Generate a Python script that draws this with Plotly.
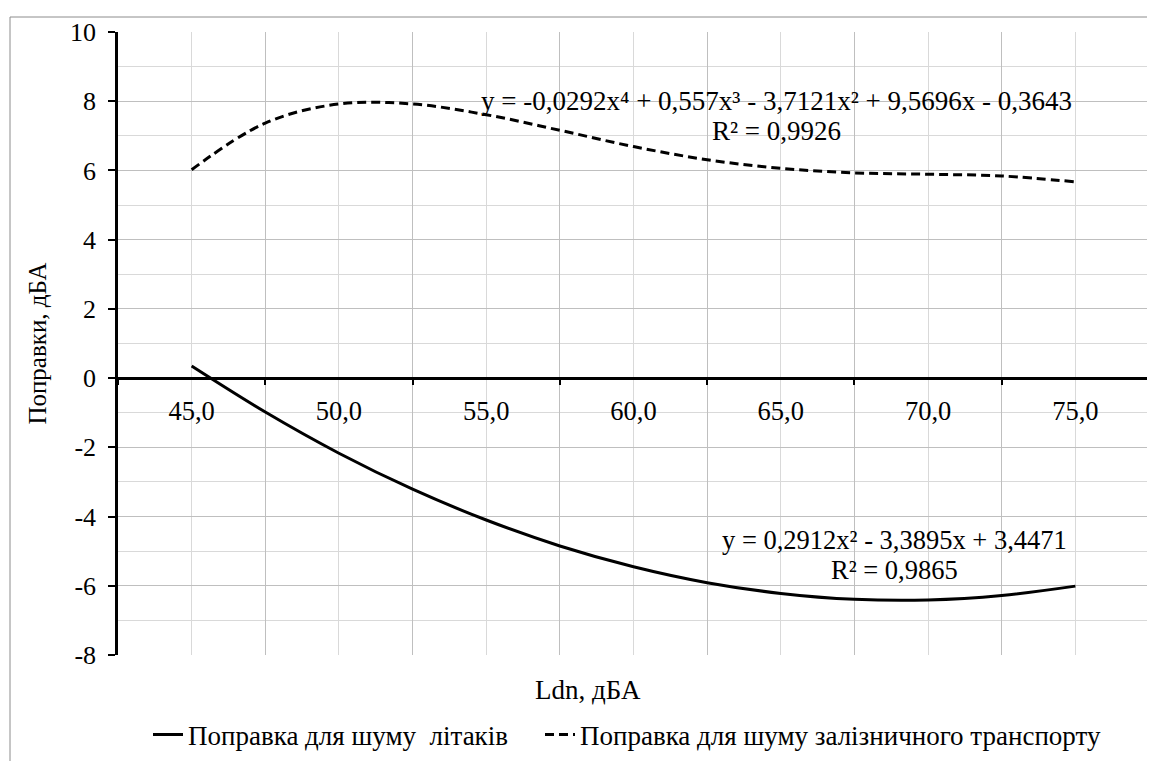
import plotly.graph_objects as go

# Ldn values (dBA) and category labels
ldn = [45.0, 50.0, 55.0, 60.0, 65.0, 70.0, 75.0]
tick_labels = ["45,0", "50,0", "55,0", "60,0", "65,0", "70,0", "75,0"]
boundaries = [42.5, 47.5, 52.5, 57.5, 62.5, 67.5, 72.5, 77.5]
y_ticks = [-8, -6, -4, -2, 0, 2, 4, 6, 8, 10]
y_tick_labels = ["-8", "-6", "-4", "-2", "0", "2", "4", "6", "8", "10"]

# curves at every half category (2.5 dBA step)
x_read = [45.0, 47.5, 50.0, 52.5, 55.0, 57.5, 60.0, 62.5, 65.0, 67.5, 70.0, 72.5, 75.0]
aircraft = [0.35, -0.98, -2.17, -3.21, -4.10, -4.85, -5.45, -5.91, -6.22, -6.39, -6.41, -6.28, -6.01]
railway = [6.02, 7.37, 7.92, 7.92, 7.61, 7.16, 6.69, 6.31, 6.06, 5.93, 5.89, 5.84, 5.67]

name_air = "Поправка для шуму \u00a0літаків"
name_rail = "Поправка для шуму залізничного транспорту"
eq_rail = "y = -0,0292x⁴ + 0,557x³ - 3,7121x² + 9,5696x - 0,3643"
r2_rail = "R² = 0,9926"
eq_air = "y = 0,2912x² - 3,3895x + 3,4471"
r2_air = "R² = 0,9865"

FONT = "Liberation Serif"
OFF = 8  # page body margin

L, R, T, B = 118 - OFF, 1155 - (1149 - OFF), 32 - OFF, 761 - (655 - OFF)
PW = 1149 - 118
PH = 655 - 32


def f(size):
    return dict(family=FONT, size=size, color="black")


fig = go.Figure()
fig.add_trace(go.Scatter(x=x_read, y=aircraft, mode="lines", name=name_air + "\u00a0" * 4,
                         line=dict(color="black", width=3, shape="spline")))
fig.add_trace(go.Scatter(x=x_read, y=railway, mode="lines", name=name_rail,
                         line=dict(color="black", width=3, shape="spline", dash="9px,5px")))

ypos = 8 / 18

fig.update_layout(
    width=1155, height=761,
    margin=dict(l=L, r=R, t=T, b=B, autoexpand=False),
    paper_bgcolor="white", plot_bgcolor="white",
    font=f(25),
    xaxis=dict(range=[42.5, 77.5], tickmode="array", tickvals=ldn, ticktext=tick_labels,
               showgrid=True, gridcolor="#d9d9d9", gridwidth=1,
               showline=True, linecolor="black", linewidth=2.5,
               ticks="", anchor="free", position=ypos, zeroline=False, automargin=False,
               tickfont=f(26.5), ticklabelstandoff=8),
    xaxis2=dict(range=[42.5, 77.5], overlaying="x", tickmode="array", tickvals=boundaries,
                showgrid=True, gridcolor="#bfbfbf", gridwidth=1, automargin=False,
                showline=False, ticks="outside", ticklen=6, tickwidth=2, tickcolor="black",
                showticklabels=False, anchor="free", position=ypos, zeroline=False),
    yaxis=dict(range=[-8, 10], tickmode="array", tickvals=y_ticks, ticktext=y_tick_labels,
               showgrid=True, gridcolor="#bfbfbf", gridwidth=1,
               minor=dict(dtick=1, showgrid=True, gridcolor="#d9d9d9", gridwidth=1),
               showline=True, linecolor="black", linewidth=2.5, automargin=False,
               ticks="outside", ticklen=7, tickwidth=2, tickcolor="black",
               zeroline=False, tickfont=f(26), ticklabelstandoff=7,
               title=dict(text="Поправки, дБА", font=f(25), standoff=17)),
    legend=dict(orientation="h", xref="container", yref="container",
                x=(148 - OFF) / 1155, xanchor="left", y=1 - (735 - OFF) / 761, yanchor="middle",
                font=f(27), bgcolor="rgba(0,0,0,0)", itemwidth=30, tracegroupgap=0),
    showlegend=True,
)

# dummy trace to activate xaxis2 gridlines
fig.add_trace(go.Scatter(x=[None], y=[None], xaxis="x2", showlegend=False, hoverinfo="skip"))

# chart area border
fig.add_shape(type="rect", xref="paper", yref="paper",
              x0=(10 - 118) / PW, y0=-0.4, x1=1.2, y1=(655 - 17) / PH,
              line=dict(color="#8c8c8c", width=1), layer="below")

ann = []
ann.append(dict(text=eq_rail, x=776, y=101, s=27))
ann.append(dict(text=r2_rail, x=776, y=131, s=27))
ann.append(dict(text=eq_air, x=894, y=540, s=26.5))
ann.append(dict(text=r2_air, x=894, y=570, s=26.5))
ann.append(dict(text="Ldn, дБА", x=588, y=690, s=27))
for a in ann:
    fig.add_annotation(text=a["text"], xref="paper", yref="paper",
                       x=(a["x"] - 118) / PW, y=(655 - a["y"]) / PH,
                       xanchor="center", yanchor="middle", showarrow=False, font=f(a["s"]))

fig.write_html("out.html")
